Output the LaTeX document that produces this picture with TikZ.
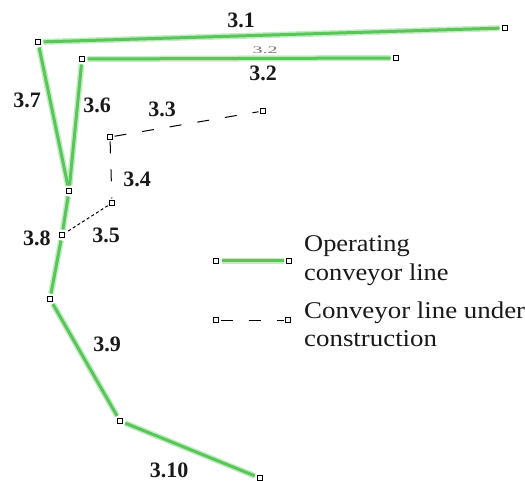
\documentclass[tikz,border=0pt]{standalone}
\usepackage{fontspec}
\setmainfont{Liberation Serif}
\definecolor{belt}{RGB}{88,198,88}
\definecolor{beltglow}{RGB}{196,236,196}
\begin{document}
\begin{tikzpicture}[x=1pt,y=-1pt,
  pt/.style={draw=black,fill=white,line width=1.1pt,minimum size=5pt,inner sep=0pt,outer sep=0pt},
  live/.style={draw=belt,line width=3pt,shorten <=3pt,shorten >=3pt},
  glow/.style={draw=beltglow,line width=6pt,shorten <=3pt,shorten >=3pt},
  build/.style={draw=black,line width=1pt,dash pattern=on 12pt off 16pt,shorten <=2pt,shorten >=2pt},
  buildfine/.style={draw=black,line width=1pt,dash pattern=on 3pt off 2.5pt,shorten <=2pt,shorten >=2pt},
  lbl/.style={font=\fontsize{22}{22}\selectfont\bfseries,inner sep=0pt,text=black!90},
  leg/.style={font=\fontsize{24}{28}\selectfont,inner sep=0pt,anchor=base west,text=black!90}]
\useasboundingbox (0,0) rectangle (525,481);

% junction points of the conveyor network
\node[pt] (A) at (38,42) {};
\node[pt] (B) at (505,28) {};
\node[pt] (C) at (82,59) {};
\node[pt] (D) at (396,58) {};
\node[pt] (E) at (69,191) {};
\node[pt] (F) at (62,235) {};
\node[pt] (G) at (50,299) {};
\node[pt] (H) at (120,421) {};
\node[pt] (I) at (260,478) {};
\node[pt] (P) at (110,137) {};
\node[pt] (Q) at (263,111) {};
\node[pt] (R) at (112,203) {};

% operating lines (soft halo, then the belt itself)
\foreach \u/\v in {A/B,C/D,A/E,C/E,E/F,F/G,G/H,H/I}{
  \draw[glow] (\u) -- (\v);
}
\foreach \u/\v in {A/B,C/D,A/E,C/E,E/F,F/G,G/H,H/I}{
  \draw[live] (\u) -- (\v);
}

% lines under construction
\draw[build] (P) -- (Q);
\draw[build] (P) -- (R);
\draw[buildfine] (R) -- (F);

% section labels
\node[lbl] (l31) at (241,20) {3.1};
\node[inner sep=0pt,text=black!55,font=\fontsize{10}{10}\selectfont] (l32s) at (265,50) {\scalebox{2.0}[1]{3.2}};
\node[lbl] (l32) at (263,73) {3.2};
\node[lbl] (l37) at (27,100) {3.7};
\node[lbl] (l36) at (97,105) {3.6};
\node[lbl] (l33) at (162,109) {3.3};
\node[lbl] (l34) at (137,179) {3.4};
\node[lbl] (l38) at (37,238) {3.8};
\node[lbl] (l35) at (106,235) {3.5};
\node[lbl] (l39) at (107,344) {3.9};
\node[lbl] (l310) at (169,470) {3.10};

% legend
\node[pt] (k1a) at (216,261) {};
\node[pt] (k1b) at (289,261) {};
\draw[glow] (k1a) -- (k1b);
\draw[live] (k1a) -- (k1b);
\node[leg] (t1a) at (304,252) {\scalebox{1.1}[1]{Operating}};
\node[leg] (t1b) at (304,280) {\scalebox{1.1}[1]{conveyor line}};

\node[pt] (k2a) at (216,320) {};
\node[pt] (k2b) at (288,320) {};
\draw[build] (k2a) -- (k2b);
\node[leg] (t2a) at (304,318) {\scalebox{1.12}[1]{Conveyor line under}};
\node[leg] (t2b) at (304,346) {\scalebox{1.12}[1]{construction}};
\end{tikzpicture}
\end{document}
